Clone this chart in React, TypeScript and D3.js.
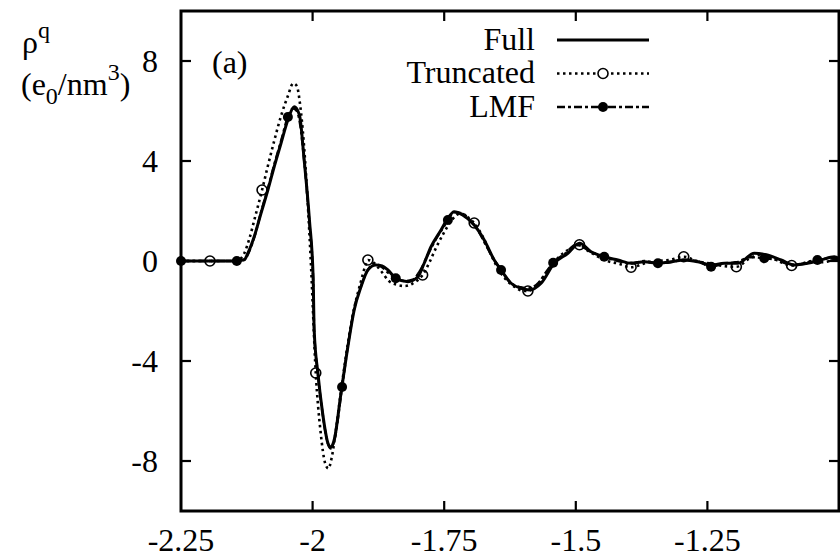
import React, { useEffect, useRef } from "react";
import * as d3 from "d3";

const xTicks = [-2.25, -2, -1.75, -1.5, -1.25];
const xTickLabels = ["-2.25", "-2", "-1.75", "-1.5", "-1.25"];
const yTicks = [8, 4, 0, -4, -8];
const yTickLabels = ["8", "4", "0", "-4", "-8"];

const fullSeries: [number, number][] = [
  [-2.25, 0], [-2.2, 0], [-2.15, 0], [-2.13, 0.05], [-2.123, 0.31], [-2.111, 0.97], [-2.098, 1.91],
  [-2.085, 2.84], [-2.073, 3.77], [-2.06, 4.71], [-2.047, 5.64], [-2.035, 6.17], [-2.025, 5.84],
  [-2.016, 4.04], [-2.006, 1.64], [-1.999, -0.63], [-1.997, -2.76], [-1.99, -4.48], [-1.981, -6.08],
  [-1.971, -7.28], [-1.966, -7.45], [-1.959, -7.16], [-1.946, -5.28], [-1.933, -3.43], [-1.921, -1.96],
  [-1.908, -1.03], [-1.895, -0.36], [-1.88, -0.16], [-1.868, -0.2], [-1.857, -0.36], [-1.842, -0.69],
  [-1.819, -0.83], [-1.8, -0.63], [-1.788, -0.09], [-1.775, 0.57], [-1.756, 1.24], [-1.743, 1.71],
  [-1.731, 1.97], [-1.715, 1.84], [-1.693, 1.44], [-1.674, 0.84], [-1.655, 0.04], [-1.642, -0.36],
  [-1.623, -0.89], [-1.604, -1.09], [-1.588, -1.16], [-1.566, -0.89], [-1.541, -0.09], [-1.515, 0.31],
  [-1.493, 0.71], [-1.471, 0.37], [-1.446, 0.17], [-1.42, 0.04], [-1.395, -0.09], [-1.37, -0.03],
  [-1.344, -0.09], [-1.319, -0.03], [-1.294, 0.04], [-1.268, -0.03], [-1.243, -0.16], [-1.218, -0.09],
  [-1.192, -0.09], [-1.161, 0.31], [-1.136, 0.24], [-1.11, 0.04], [-1.085, -0.16], [-1.06, -0.09],
  [-1.034, 0.04], [-1.009, 0.17], [-1.0, 0.1],
];

const truncatedSeries: [number, number][] = [
  [-2.25, 0], [-2.195, 0], [-2.15, 0], [-2.14, 0.05], [-2.13, 0.3], [-2.12, 0.9], [-2.11, 1.7],
  [-2.096, 2.84], [-2.085, 3.8], [-2.073, 4.8], [-2.06, 5.8], [-2.047, 6.6], [-2.037, 7.1], [-2.03, 7.0],
  [-2.024, 6.3], [-2.017, 4.8], [-2.01, 2.6], [-2.003, -0.2], [-1.994, -4.48], [-1.985, -6.8],
  [-1.976, -8.1], [-1.97, -8.3], [-1.964, -7.9], [-1.956, -6.8], [-1.946, -5.2], [-1.933, -3.3],
  [-1.92, -1.8], [-1.908, -0.8], [-1.9, -0.2], [-1.895, 0.04], [-1.885, -0.05], [-1.87, -0.4],
  [-1.855, -0.8], [-1.84, -0.95], [-1.825, -1.0], [-1.81, -0.9], [-1.791, -0.56], [-1.778, -0.05],
  [-1.765, 0.55], [-1.75, 1.15], [-1.735, 1.65], [-1.72, 1.9], [-1.705, 1.75], [-1.693, 1.52],
  [-1.675, 0.9], [-1.66, 0.2], [-1.645, -0.4], [-1.63, -0.8], [-1.615, -1.05], [-1.6, -1.2],
  [-1.591, -1.2], [-1.575, -1.0], [-1.56, -0.6], [-1.545, -0.15], [-1.53, 0.2], [-1.51, 0.5],
  [-1.493, 0.65], [-1.48, 0.45], [-1.46, 0.2], [-1.44, 0.0], [-1.42, -0.1], [-1.395, -0.25],
  [-1.37, -0.1], [-1.345, 0.0], [-1.32, 0.05], [-1.295, 0.17], [-1.27, 0.0], [-1.245, -0.1],
  [-1.22, -0.2], [-1.195, -0.23], [-1.17, 0.1], [-1.15, 0.25], [-1.13, 0.15], [-1.11, -0.05],
  [-1.09, -0.18], [-1.07, -0.1], [-1.05, 0.0], [-1.03, -0.05], [-1.01, 0.05], [-1.0, 0.1],
];
const truncatedMarkerX = [-2.195, -2.096, -1.994, -1.895, -1.791, -1.693, -1.591, -1.493, -1.395, -1.295, -1.195, -1.09];

const lmfSeries: [number, number][] = [
  [-2.25, 0], [-2.144, 0], [-2.13, 0.05], [-2.12, 0.4], [-2.11, 1.0], [-2.098, 1.95], [-2.085, 2.9],
  [-2.073, 3.85], [-2.06, 4.8], [-2.047, 5.76], [-2.037, 6.1], [-2.03, 6.0], [-2.024, 5.5], [-2.016, 4.0],
  [-2.006, 1.5], [-1.999, -0.7], [-1.997, -2.8], [-1.99, -4.5], [-1.981, -6.1], [-1.971, -7.3],
  [-1.966, -7.5], [-1.959, -7.2], [-1.944, -5.04], [-1.933, -3.4], [-1.921, -1.9], [-1.908, -1.0],
  [-1.895, -0.35], [-1.882, -0.1], [-1.868, -0.25], [-1.855, -0.5], [-1.842, -0.69], [-1.825, -0.8],
  [-1.81, -0.75], [-1.795, -0.35], [-1.78, 0.3], [-1.765, 0.9], [-1.75, 1.4], [-1.743, 1.64],
  [-1.73, 1.95], [-1.715, 1.9], [-1.7, 1.6], [-1.685, 1.2], [-1.67, 0.6], [-1.655, 0.05], [-1.642, -0.36],
  [-1.625, -0.85], [-1.605, -1.05], [-1.59, -1.1], [-1.57, -0.85], [-1.555, -0.4], [-1.543, -0.07],
  [-1.52, 0.3], [-1.5, 0.65], [-1.49, 0.6], [-1.47, 0.35], [-1.446, 0.17], [-1.42, 0.0], [-1.395, -0.1],
  [-1.37, 0.0], [-1.344, -0.09], [-1.32, -0.05], [-1.295, 0.05], [-1.27, 0.0], [-1.243, -0.23],
  [-1.22, -0.1], [-1.195, -0.05], [-1.17, 0.15], [-1.142, 0.11], [-1.12, 0.05], [-1.1, -0.1],
  [-1.08, -0.15], [-1.06, -0.05], [-1.041, 0.04], [-1.02, 0.1], [-1.0, 0.05],
];
const lmfMarkerX = [-2.25, -2.144, -2.047, -1.944, -1.842, -1.743, -1.642, -1.543, -1.446, -1.344, -1.243, -1.142, -1.041];

const legendLabels = ["Full", "Truncated", "LMF"];

const W = 840;
const H = 558;
const FONT = "'Liberation Serif', serif";

export default function App() {
  const svgRef = useRef<SVGSVGElement | null>(null);
  useEffect(() => {
    if (!svgRef.current) return;
    d3.select(svgRef.current)
      .selectAll<SVGTextElement, unknown>("text, tspan")
      .each(function () {
        this.style.setProperty("font-family", FONT, "important");
      });
  }, []);

  const x = d3.scaleLinear().domain([-2.25, -1.0]).range([181, 839]);
  const y = d3.scaleLinear().domain([-10, 10]).range([511, 11]);
  const line = d3
    .line<[number, number]>()
    .x((d) => x(d[0]))
    .y((d) => y(d[1]))
    .curve(d3.curveMonotoneX);

  const pick = (series: [number, number][], xs: number[]) =>
    xs.map((v) => series.find((d) => Math.abs(d[0] - v) < 1e-9)).filter(Boolean) as [number, number][];

  const truncMarkers = pick(truncatedSeries, truncatedMarkerX);
  const lmfMarkers = pick(lmfSeries, lmfMarkerX);

  const left = x.range()[0];
  const right = x.range()[1];
  const top = y.range()[1];
  const bottom = y.range()[0];

  const dotted = "2.5,3.5";
  const dashdot = "8,3,3,3";

  const legendY = [40, 73.5, 107];
  const lgX0 = 557;
  const lgX1 = 649;

  return (
    <div style={{ position: "absolute", left: 0, top: 0 }}>
      <svg ref={svgRef} width={W} height={H} style={{ display: "block" }}>
        <style>{`text, tspan { font-family: 'Liberation Serif', serif !important; }`}</style>
        <rect x={0} y={0} width={W} height={H} fill="#fff" />
        <path d={line(truncatedSeries) || ""} fill="none" stroke="#000" strokeWidth={2.6} strokeDasharray={dotted} />
        <path d={line(lmfSeries) || ""} fill="none" stroke="#000" strokeWidth={2.4} strokeDasharray={dashdot} />
        <path d={line(fullSeries) || ""} fill="none" stroke="#000" strokeWidth={3} strokeLinejoin="round" />
        {truncMarkers.map((d, i) => (
          <circle key={"t" + i} cx={x(d[0])} cy={y(d[1])} r={5} fill="none" stroke="#000" strokeWidth={1.6} />
        ))}
        {lmfMarkers.map((d, i) => (
          <circle key={"l" + i} cx={x(d[0])} cy={y(d[1])} r={5} fill="#000" />
        ))}

        <rect x={left} y={top} width={right - left} height={bottom - top} fill="none" stroke="#000" strokeWidth={3} />
        {xTicks.map((t, i) => (
          <g key={"xt" + i}>
            {i > 0 && <line x1={x(t)} x2={x(t)} y1={bottom} y2={bottom - 10} stroke="#000" strokeWidth={2.2} />}
            {i > 0 && <line x1={x(t)} x2={x(t)} y1={top} y2={top + 10} stroke="#000" strokeWidth={2.2} />}
            <text x={x(t)} y={551} textAnchor="middle" fontFamily={FONT} fontSize={32}>
              {xTickLabels[i]}
            </text>
          </g>
        ))}
        {yTicks.map((t, i) => (
          <g key={"yt" + i}>
            <line x1={left} x2={left + 10} y1={y(t)} y2={y(t)} stroke="#000" strokeWidth={2.2} />
            <line x1={right} x2={right - 10} y1={y(t)} y2={y(t)} stroke="#000" strokeWidth={2.2} />
            <text x={158} y={y(t) + 11} textAnchor="end" fontFamily={FONT} fontSize={32}>
              {yTickLabels[i]}
            </text>
          </g>
        ))}

        <text x={22} y={53} fontFamily={FONT} fontSize={32}>
          ρ<tspan dy={-15} fontSize={24}>q</tspan>
        </text>
        <text x={21} y={95} fontFamily={FONT} fontSize={32}>
          (e<tspan dy={9} fontSize={24}>0</tspan>
          <tspan dy={-9}>/nm</tspan>
          <tspan dy={-15} fontSize={24}>3</tspan>
          <tspan dy={15}>)</tspan>
        </text>

        <text x={212} y={73} fontFamily={FONT} fontSize={32}>
          (a)
        </text>

        {legendLabels.map((lab, i) => (
          <text key={"lg" + i} x={535} y={legendY[i] + 9.5} textAnchor="end" fontFamily={FONT} fontSize={32}>
            {lab}
          </text>
        ))}
        <line x1={lgX0} x2={lgX1} y1={legendY[0]} y2={legendY[0]} stroke="#000" strokeWidth={3} />
        <line x1={lgX0} x2={lgX1} y1={legendY[1]} y2={legendY[1]} stroke="#000" strokeWidth={2.6} strokeDasharray={dotted} />
        <circle cx={(lgX0 + lgX1) / 2} cy={legendY[1]} r={5} fill="#fff" stroke="#000" strokeWidth={1.6} />
        <line x1={lgX0} x2={lgX1} y1={legendY[2]} y2={legendY[2]} stroke="#000" strokeWidth={2.4} strokeDasharray={dashdot} />
        <circle cx={(lgX0 + lgX1) / 2} cy={legendY[2]} r={5} fill="#000" />
      </svg>
    </div>
  );
}
